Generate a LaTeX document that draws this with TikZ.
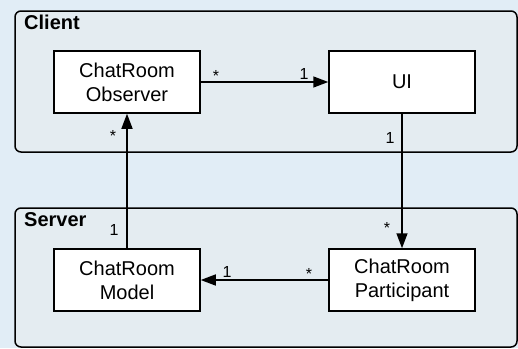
\documentclass[tikz,border=0pt]{standalone}
\usepackage{fontspec}
\setmainfont{Liberation Sans}
\usetikzlibrary{arrows.meta}
\definecolor{bgblue}{RGB}{225,237,246}
\definecolor{panelc}{RGB}{228,236,241}
\begin{document}
\begin{tikzpicture}[x=1pt,y=-1pt,
  panel/.style={draw=black,line width=1.5pt,fill=panelc,rounded corners=6pt},
  cls/.style={draw=black,line width=1.5pt,fill=white,minimum width=146pt,minimum height=62pt,inner sep=0pt,align=center,font=\fontsize{20}{24}\selectfont},
  conn/.style={line width=1.5pt,draw=black},
  arr/.style={conn,-{Triangle[length=15pt,width=11pt]}},
  mult/.style={anchor=base,inner sep=0pt,font=\fontsize{16}{18}\selectfont},
  title/.style={anchor=base west,inner sep=0pt,font=\fontsize{20}{24}\selectfont\bfseries}]
\fill[bgblue] (0,0) rectangle (518,348);
\useasboundingbox (0,0) rectangle (518,348);
\draw[panel] (15,11) rectangle (517,152);
\draw[panel] (15,208) rectangle (517,347);
\node[title] (client) at (24,29) {Client};
\node[title] (server) at (24,226) {Server};
\node[cls] (obs) at (127,82) {ChatRoom\\Observer};
\node[cls] (ui) at (402,82) {UI};
\node[cls] (model) at (127,280) {ChatRoom\\Model};
\node[cls] (part) at (402,280) {ChatRoom\\Participant};
\draw[arr] (obs) -- (ui);
\draw[arr] (ui) -- (part);
\draw[arr] (part) -- (model);
\draw[arr] (model) -- (obs);
\node[mult] (m1) at (216,81) {*};
\node[mult] (m2) at (304,79) {1};
\node[mult] (m3) at (390,143) {1};
\node[mult] (m4) at (387,233) {*};
\node[mult] (m5) at (309,279) {*};
\node[mult] (m6) at (227,277) {1};
\node[mult] (m7) at (114,235) {1};
\node[mult] (m8) at (113,141) {*};
\end{tikzpicture}
\end{document}
